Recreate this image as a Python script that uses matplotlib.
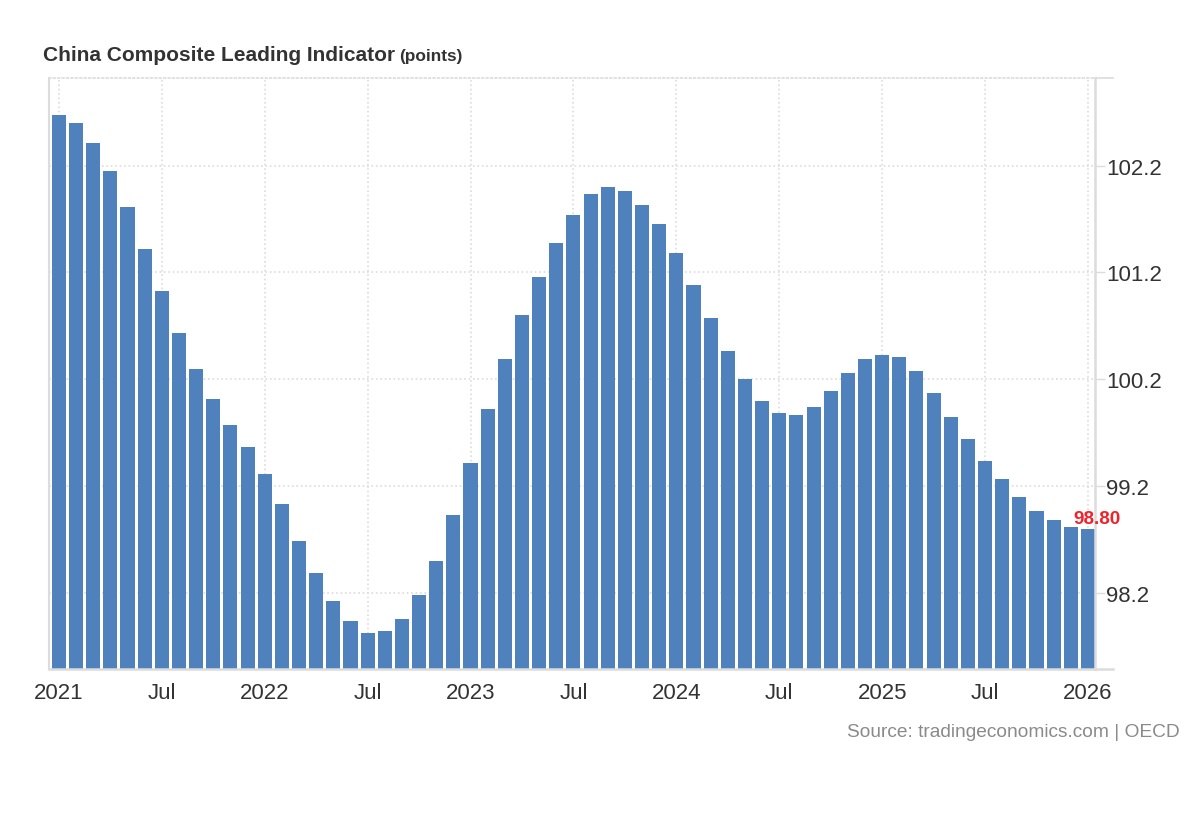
import numpy as np
import matplotlib
matplotlib.use('Agg')
from matplotlib import pyplot as plt

# monthly readings, Jan 2021 .. Jan 2026
cli_values = [
    102.67, 102.60, 102.41, 102.15, 101.81, 101.42, 101.03, 100.63, 100.30, 100.02, 99.77, 99.57,  # 2021
    99.31, 99.03, 98.69, 98.39, 98.13, 97.94, 97.83, 97.85, 97.96, 98.18, 98.50, 98.93,  # 2022
    99.42, 99.92, 100.39, 100.80, 101.16, 101.48, 101.74, 101.93, 102.00, 101.96, 101.83, 101.65,  # 2023
    101.38, 101.08, 100.77, 100.47, 100.20, 100.00, 99.89, 99.87, 99.94, 100.09, 100.26, 100.39,  # 2024
    100.43, 100.41, 100.28, 100.07, 99.85, 99.64, 99.44, 99.27, 99.10, 98.97, 98.88, 98.82,  # 2025
    98.80,  # 2026
]
tick_labels = ['2021', 'Jul', '2022', 'Jul', '2023', 'Jul', '2024', 'Jul', '2025', 'Jul', '2026']
y_ticks = [98.2, 99.2, 100.2, 101.2, 102.2]

BAR_COLOR = '#4f81bd'
GRID_COLOR = '#dcdcdc'
TEXT_COLOR = '#333333'


def main():
    plt.rcParams['font.family'] = ['Liberation Sans', 'DejaVu Sans']

    fig = plt.figure(figsize=(12, 8.2), dpi=100)
    ax = fig.add_axes([0.0408, 0.1829, 0.8717, 0.7208])

    x = np.arange(len(cli_values))
    ax.bar(x, cli_values, width=0.82, color=BAR_COLOR, zorder=2)

    ax.set_xlim(-0.58, 60.41)
    ax.set_ylim(97.49, 103.02)

    ax.set_xticks(x[::6])
    ax.set_xticklabels(tick_labels)
    ax.set_yticks(y_ticks)
    ax.set_yticklabels(['{:.1f}'.format(v) for v in y_ticks])
    ax.yaxis.tick_right()

    ax.tick_params(axis='x', length=0, pad=9, labelsize=16, labelcolor=TEXT_COLOR)
    ax.tick_params(axis='y', length=7.2, width=1, color=GRID_COLOR, pad=1,
                   labelsize=16, labelcolor=TEXT_COLOR)

    ax.set_axisbelow(True)
    ax.grid(True, color=GRID_COLOR, linestyle=':', linewidth=1.2)

    for side in ['left', 'right', 'bottom']:
        ax.spines[side].set_color(GRID_COLOR)
    ax.spines['left'].set_linewidth(1.5)
    ax.spines['right'].set_linewidth(1.8)
    ax.spines['bottom'].set_linewidth(1.8)
    ax.spines['top'].set_color(GRID_COLOR)
    ax.spines['top'].set_linestyle(':')
    ax.spines['top'].set_linewidth(1.2)

    # little stubs past the right spine at top and bottom
    ax.plot([1.0, 1.017], [0, 0], transform=ax.transAxes, color=GRID_COLOR,
            lw=1.8, clip_on=False)
    ax.plot([1.0, 1.017], [1, 1], transform=ax.transAxes, color=GRID_COLOR,
            lw=1.2, clip_on=False)

    # last value label
    ax.annotate('{:.2f}'.format(cli_values[-1]), xy=(x[-1], cli_values[-1]),
                xytext=(6.5, 7.5), textcoords='offset points', ha='center', va='center',
                color='#f0222b', fontsize=13.6, fontweight='bold', annotation_clip=False)

    title = fig.text(0.0358, 0.9256, 'China Composite Leading Indicator', fontsize=15,
                     fontweight='bold', color=TEXT_COLOR, va='baseline', ha='left')
    fig.canvas.draw()
    bb = title.get_window_extent()
    fig.text((bb.x1 + 4) / fig.bbox.width, 0.9256, '(points)', fontsize=12.4,
             fontweight='bold', color=TEXT_COLOR, va='baseline', ha='left')

    fig.text(0.9833, 0.1073, 'Source: tradingeconomics.com | OECD', fontsize=13.8,
             color='#8a8a8a', ha='right', va='center')

    fig.savefig('out.png', dpi=100)


if __name__ == '__main__':
    main()
